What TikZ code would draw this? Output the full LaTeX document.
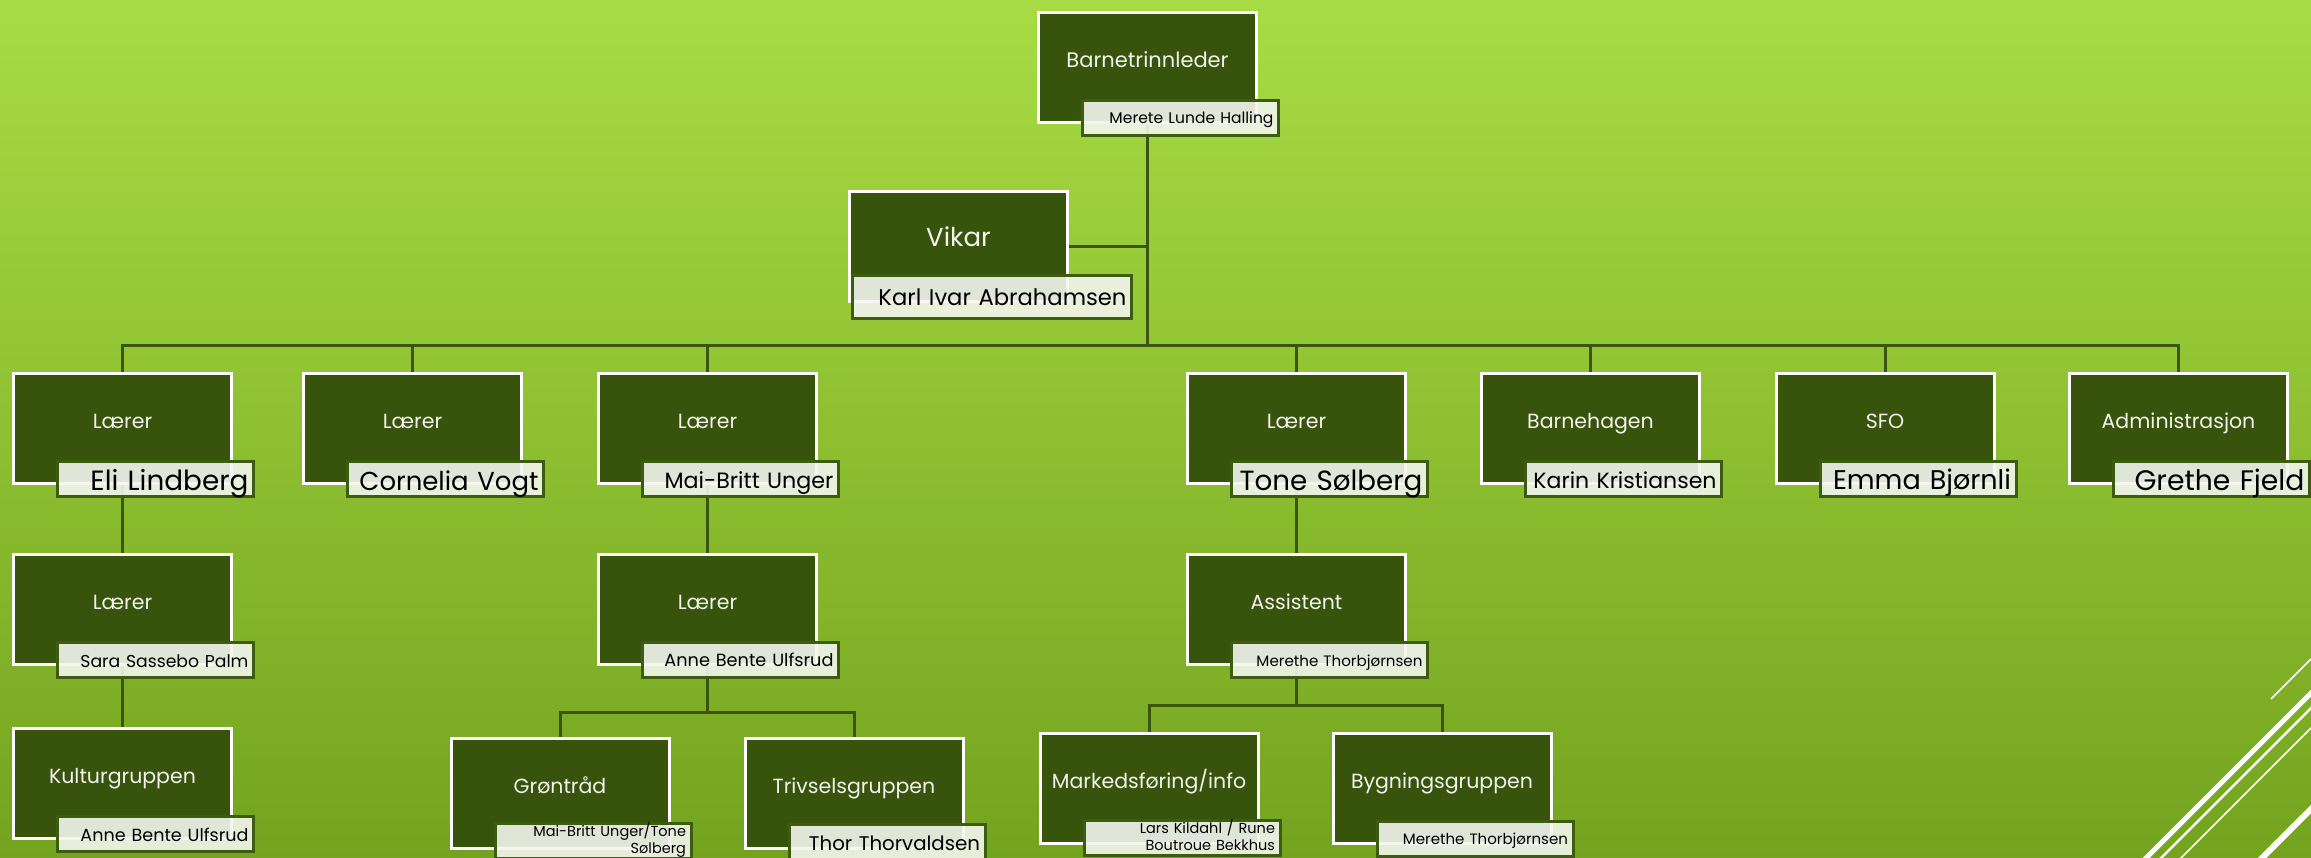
\documentclass[tikz,border=0pt]{standalone}
\usepackage{fontspec}
\setmainfont{Poppins}
\usepackage{graphicx}
\pgfdeclarelayer{bg}
\pgfsetlayers{bg,main}
\definecolor{boxg}{HTML}{38540C}
\definecolor{labb}{HTML}{3C5C10}
\definecolor{labf}{HTML}{F3F6EE}
\definecolor{conncol}{HTML}{3A560E}
\definecolor{titlec}{HTML}{F2F2EE}
\definecolor{bgtop}{HTML}{A8DC44}
\definecolor{bgmid}{HTML}{8EC02F}
\definecolor{bgbot}{HTML}{74A41F}
\tikzset{
  box/.style={draw=white, line width=3pt, fill=boxg, minimum width=218pt, minimum height=110pt,
    inner sep=0pt, text=titlec, font=\fontsize{20.5}{24}\selectfont, text height=10pt, text depth=10pt},
  lab/.style={draw=labb, line width=3pt, fill=labf, fill opacity=0.9, text opacity=1,
    minimum width=196pt, minimum height=35pt, inner xsep=5pt, inner ysep=0pt,
    text width=186pt, align=right, text=black, text depth=0pt},
  twoline/.style={font=\fontsize{14.5}{17.5}\selectfont, text height=10pt, text depth=20pt},
  link/.style={draw=conncol, line width=3pt},
  deco/.style={draw=white, line cap=butt}
}
\newcommand\namelab[6]{\node[lab, text height=#5pt] (#1) at (#2,#3) {\resizebox{#4pt}{!}{#6}};}
\begin{document}
\begin{tikzpicture}[x=1pt,y=-1pt]
\useasboundingbox (0,0) rectangle (2311,857);
\clip (0,0) rectangle (2311,857);
\begin{pgfonlayer}{bg}
\shade[top color=bgtop, middle color=bgmid, bottom color=bgbot] (0,0) rectangle (2311,857);
\end{pgfonlayer}

% level 1
\node[box, font=\fontsize{21}{25}\selectfont] (b0) at (1147.5,67.5) {Barnetrinnleder};
\namelab{b0n}{1180.5}{118}{164}{11}{Merete Lunde Halling}
\node[box, font=\fontsize{26}{30}\selectfont] (v) at (958.5,246) {Vikar};
\node[lab, minimum width=279pt, minimum height=43pt, text width=269pt, text height=17pt] (vn) at (992,297) {\resizebox{248pt}{!}{Karl Ivar Abrahamsen}};

% level 2
\node[box] (l1) at (122.5,428.5) {Lærer};
\namelab{l1n}{155.5}{479}{158}{22}{Eli Lindberg}
\node[box] (l2) at (412.5,428.5) {Lærer};
\namelab{l2n}{445.5}{479}{179}{22}{Cornelia Vogt}
\node[box] (l3) at (707.5,428.5) {Lærer};
\namelab{l3n}{740.5}{479}{169}{19}{Mai-Britt Unger}
\node[box] (l5) at (1296.5,428.5) {Lærer};
\namelab{l5n}{1329.5}{479}{183}{22}{Tone Sølberg}
\node[box] (l6) at (1590.5,428.5) {Barnehagen};
\namelab{l6n}{1623.5}{479}{183}{18}{Karin Kristiansen}
\node[box] (l7) at (1885,428.5) {SFO};
\namelab{l7n}{1918}{479}{178}{21}{Emma Bjørnli}
\node[box] (l8) at (2178.5,428.5) {Administrasjon};
\namelab{l8n}{2211.5}{479}{170}{23}{Grethe Fjeld}

% level 3
\node[box] (s1) at (122.5,609.5) {Lærer};
\namelab{s1n}{155.5}{660}{168}{14}{Sara Sassebo Palm}
\node[box] (m3) at (707.5,609.5) {Lærer};
\namelab{m3n}{740.5}{660}{169}{13}{Anne Bente Ulfsrud}
\node[box] (a3) at (1296.5,609.5) {Assistent};
\namelab{a3n}{1329.5}{660}{166}{12}{Merethe Thorbjørnsen}

% level 4
\node[box] (k1) at (122.5,783.5) {Kulturgruppen};
\namelab{k1n}{155.5}{834}{168}{14}{Anne Bente Ulfsrud}
\node[box] (g4) at (560,793.5) {Grøntråd};
\node[lab, twoline] (g4n) at (593,841) {Mai-Britt Unger/Tone\\Sølberg};
\node[box] (t4) at (854,793.5) {Trivselsgruppen};
\namelab{t4n}{887}{842}{171}{16}{Thor Thorvaldsen}
\node[box] (mk4) at (1149,788.5) {Markedsføring/info};
\node[lab, twoline] (mk4n) at (1182,838) {Lars Kildahl / Rune\\Boutroue Bekkhus};
\node[box] (by4) at (1442,788.5) {Bygningsgruppen};
\namelab{by4n}{1475}{839}{165}{11}{Merethe Thorbjørnsen}

% connectors
\coordinate (bus) at (1147.5,345);
\coordinate (barA) at (707.5,712);
\coordinate (barB) at (1296.5,705);
\begin{pgfonlayer}{bg}
\draw[link] (b0.south) -- (bus);
\draw[link] (v.east) -- (v.east -| b0.south);
\draw[link] (l1.north) -- (l1.north |- bus) -- (l8.north |- bus) -- (l8.north);
\foreach \n in {l2,l3,l5,l6,l7} \draw[link] (\n.north) -- (\n.north |- bus);
\draw[link] (l1.south) -- (s1.north);
\draw[link] (s1.south) -- (k1.north);
\draw[link] (l3.south) -- (m3.north);
\draw[link] (m3.south) -- (barA);
\draw[link] (g4.north) -- (g4.north |- barA) -- (t4.north |- barA) -- (t4.north);
\draw[link] (l5.south) -- (a3.north);
\draw[link] (a3.south) -- (barB);
\draw[link] (mk4.north) -- (mk4.north |- barB) -- (by4.north |- barB) -- (by4.north);
\end{pgfonlayer}

% decorative lines
\draw[deco, line width=1.5pt] (2271,699) -- (2331,639);
\draw[deco, line width=5pt] (2140,864) -- (2331,673);
\draw[deco, line width=2.5pt] (2155,864) -- (2331,688);
\draw[deco, line width=1.5pt] (2175,864) -- (2331,708);
\draw[deco, line width=6pt] (2256,864) -- (2331,789);
\end{tikzpicture}
\end{document}
